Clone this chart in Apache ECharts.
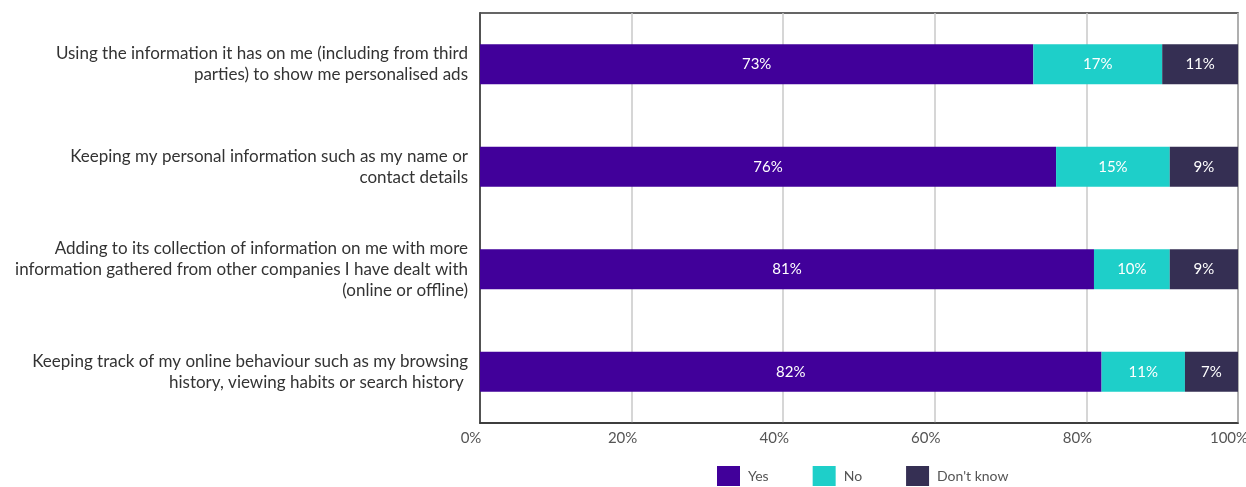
<!DOCTYPE html>
<html><head><meta charset="utf-8">
<script src="https://cdn.jsdelivr.net/npm/echarts@6/dist/echarts.min.js"></script>
<style>html,body{margin:0;padding:0;background:#fff}#c{width:1246px;height:487px}</style>
</head><body><div id="c"></div>
<script>
const categories = [
  "Using the information it has on me (including from third\nparties) to show me personalised ads",
  "Keeping my personal information such as my name or\ncontact details",
  "Adding to its collection of information on me with more\ninformation gathered from other companies I have dealt with\n(online or offline)",
  "Keeping track of my online behaviour such as my browsing\nhistory, viewing habits or search history "
];
const yes = [73, 76, 81, 82];
const no = [17, 15, 10, 11];
const dontKnow = [11, 9, 9, 7];
const xTicks = [0, 20, 40, 60, 80, 100];

const font = 'Lato, "Open Sans", sans-serif';
function mk(name, data, color) {
  return {
    name, type: 'bar', stack: 'a', data, barWidth: 40,
    itemStyle: { color },
    label: { show: true, position: 'inside', color: '#fff', fontFamily: font, fontSize: 15, formatter: p => p.value + '%' }
  };
}
const chart = echarts.init(document.getElementById('c'), null, { renderer: 'canvas' });
chart.setOption({
  animation: false,
  grid: { left: 480, right: 8, top: 13, bottom: 64, show: true, borderColor: '#333', borderWidth: 1.5, containLabel: false, outerBoundsMode: 'none' },
  legend: {
    top: 466, left: 717, itemWidth: 23, itemHeight: 20, itemGap: 44, padding: 0,
    textStyle: { fontFamily: font, fontSize: 14, color: '#555', padding: [0, 0, 0, 3] },
    icon: 'rect',
    data: ['Yes', 'No', "Don't know"]
  },
  xAxis: {
    type: 'value', min: 0, max: 100, interval: 20,
    axisLine: { show: true, lineStyle: { color: '#333', width: 1.5 } },
    axisTick: { show: false },
    splitLine: { show: true, lineStyle: { color: '#c8c8c8', width: 1.5 } },
    axisLabel: { color: '#555', fontFamily: font, fontSize: 15, margin: 8, padding: [0, 18, 0, 0], formatter: v => xTicks.includes(v) ? v + '%' : '' }
  },
  yAxis: {
    type: 'category', inverse: true, data: categories,
    axisLine: { show: true, lineStyle: { color: '#333', width: 1.5 } },
    axisTick: { show: false },
    axisLabel: { color: '#333', fontFamily: font, fontSize: 17, lineHeight: 21, margin: 12, align: 'right' }
  },
  series: [
    mk('Yes', yes, '#41009a'),
    mk('No', no, '#1ecfc9'),
    mk("Don't know", dontKnow, '#352f53')
  ]
});
</script></body></html>
